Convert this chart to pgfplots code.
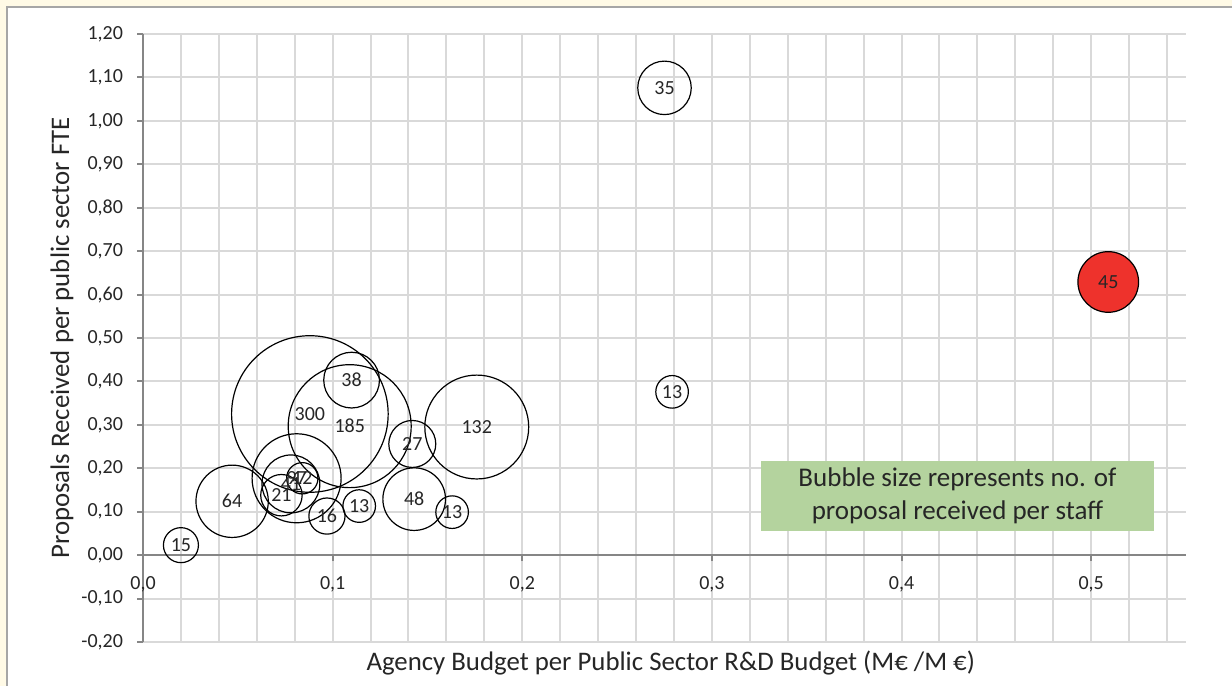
\documentclass[border=0pt]{standalone}
\usepackage{fontspec}
\setmainfont{Carlito}
\usepackage{pgfplots}
\usepackage{pgfplotstable}
\pgfplotsset{compat=1.18}

\definecolor{gridgray}{RGB}{217,217,217}
\definecolor{axisgray}{RGB}{134,134,134}
\definecolor{txt}{RGB}{38,38,38}
\definecolor{cream}{RGB}{255,250,230}
\definecolor{framegray}{RGB}{166,166,166}
\definecolor{boxgreen}{RGB}{180,211,158}
\definecolor{bubblered}{RGB}{238,50,44}

% x, y, proposals per staff (bubble size)
\pgfplotstableread{
x     y     n
0.275 1.076 35
0.279 0.376 13
0.176 0.295 132
0.088 0.325 300
0.109 0.297 185
0.110 0.403 38
0.142 0.256 27
0.143 0.129 48
0.163 0.099 13
0.114 0.113 13
0.097 0.090 16
0.047 0.124 64
0.020 0.023 15
0.081 0.177 97
0.078 0.164 41
0.073 0.138 21
0.084 0.177 12
}\bubbles

\pgfplotstableread{
x     y     n
0.509 0.629 45
}\redbubble

% bubble area proportional to n
\pgfplotsset{
  bubble/.style={
    scatter, only marks,
    point meta=explicit symbolic,
    scatter/@pre marker code/.code={%
      \pgfmathsetmacro\bubr{2.26*sqrt(\pgfplotspointmeta)}%
      \scope[mark size=\bubr pt]%
    },
    scatter/@post marker code/.code={\endscope},
  },
  bubble labels/.style={
    draw=none, mark=none,
    point meta=explicit symbolic,
    nodes near coords,
    every node near coord/.append style={anchor=center, inner sep=0pt,
        font=\fontsize{10}{12}\selectfont, text=txt},
  }
}

\begin{document}
\begin{tikzpicture}
% page background and frame
\fill[cream] (-71.5pt,-22pt) rectangle (544.5pt,321pt);
\fill[white] (-68pt,-22pt) rectangle (544.5pt,317.5pt);
\draw[framegray, line width=1pt] (-68pt,-22pt) -- (-68pt,317.5pt) -- (544.5pt,317.5pt);

\begin{axis}[
    at={(0,0)}, anchor=south west,
    scale only axis, width=521.5pt, height=304pt,
    xmin=0, xmax=0.55, ymin=-0.2, ymax=1.2,
    axis x line=middle, axis y line=left,
    axis line style={draw=axisgray, line width=1pt, -},
    hide obscured x ticks=false, hide obscured y ticks=false,
    xtick={0,0.1,0.2,0.3,0.4,0.5},
    minor xtick={0.02,0.04,0.06,0.08,0.12,0.14,0.16,0.18,0.22,0.24,0.26,0.28,
                 0.32,0.34,0.36,0.38,0.42,0.44,0.46,0.48,0.52,0.54},
    ytick={-0.2,-0.1,0,0.1,0.2,0.3,0.4,0.5,0.6,0.7,0.8,0.9,1.0,1.1,1.2},
    grid=both,
    major grid style={draw=gridgray, line width=1pt},
    minor grid style={draw=gridgray, line width=1pt},
    tick align=outside, major tick length=3pt, minor tick length=0pt,
    tick style={draw=axisgray, line width=1pt},
    /pgf/number format/assume math mode=true,
    x tick label style={/pgf/number format/fixed, /pgf/number format/fixed zerofill,
        /pgf/number format/precision=1, /pgf/number format/use comma},
    y tick label style={/pgf/number format/fixed, /pgf/number format/fixed zerofill,
        /pgf/number format/precision=2, /pgf/number format/use comma},
    xticklabel style={font=\fontsize{10}{12}\selectfont, text=txt, yshift=-4pt},
    yticklabel style={font=\fontsize{10}{12}\selectfont, text=txt, xshift=-3.5pt},
    xlabel={Agency Budget per Public Sector R\&D Budget (M€ /M €)},
    ylabel={Proposals Received per public sector FTE},
    xlabel style={at={(axis description cs:0.506,-0.0345)}, anchor=center,
                  font=\fontsize{13.4}{16}\selectfont, text=txt},
    ylabel style={at={(axis description cs:-0.0777,0.5)}, anchor=center,
                  font=\fontsize{13.4}{16}\selectfont, text=txt},
    clip=false,
]
\addplot[bubble, mark=o, mark options={draw=black, line width=0.6pt}]
    table[x=x, y=y, meta=n] {\bubbles};
\addplot[bubble, mark=*, mark options={draw=black, fill=bubblered, line width=0.6pt}]
    table[x=x, y=y, meta=n] {\redbubble};

\addplot[bubble labels] table[x=x, y=y, meta=n] {\bubbles};
\addplot[bubble labels] table[x=x, y=y, meta=n] {\redbubble};

\fill[boxgreen] (axis cs:0.326,0.0553) rectangle (axis cs:0.533,0.2166);
\node[align=center, font=\fontsize{13.5}{16.5}\selectfont, text=txt]
    at (axis cs:0.4295,0.136) {Bubble size represents no. of\\proposal received per staff};
\end{axis}
\pgfresetboundingbox
\path[use as bounding box] (-71.5pt,-22pt) rectangle (544.5pt,321pt);
\end{tikzpicture}
\end{document}
